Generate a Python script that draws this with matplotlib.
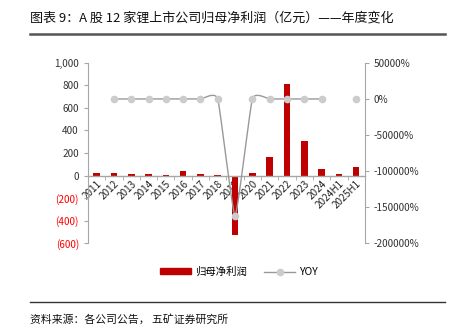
import numpy as np
import matplotlib
matplotlib.use("Agg")
import matplotlib.pyplot as plt
from matplotlib.lines import Line2D
from matplotlib.patches import Patch
from matplotlib.ticker import FixedLocator, FuncFormatter

plt.rcParams['font.family'] = ['Noto Sans CJK SC', 'DejaVu Sans']

# Données
annees = ['2011', '2012', '2013', '2014', '2015', '2016', '2017', '2018', '2019',
          '2020', '2021', '2022', '2023', '2024', '2024H1', '2025H1']
benefice = [25, 25, 15, 15, 5, 40, 15, 5, -525, 25, 169, 810, 311, 62, 15, 75]
yoy = [np.nan, 0, 0, 0, 0, 0, 0, 0, -162000, 0, 0, 0, 0, 0, np.nan, 0]

rouge = '#c00000'
gris_axe = '#a6a6a6'


def courbe_lisse(xs, ys, k=0.07, n=25):
    # Courbe lissée façon Excel (Bézier, points de contrôle P_i ± k*(P_i+1 - P_i-1))
    xs = np.asarray(xs, dtype=float); ys = np.asarray(ys, dtype=float)
    m = len(xs)
    tx = np.zeros(m); ty = np.zeros(m)
    for i in range(m):
        a = max(i - 1, 0); b = min(i + 1, m - 1)
        tx[i] = (xs[b] - xs[a]) * k
        ty[i] = (ys[b] - ys[a]) * k
    out_x, out_y = [], []
    t = np.linspace(0, 1, n)
    for i in range(m - 1):
        p0 = (xs[i], ys[i]); p3 = (xs[i + 1], ys[i + 1])
        p1 = (xs[i] + tx[i], ys[i] + ty[i])
        p2 = (xs[i + 1] - tx[i + 1], ys[i + 1] - ty[i + 1])
        for c, arr in ((0, out_x), (1, out_y)):
            arr.extend((1 - t) ** 3 * p0[c] + 3 * (1 - t) ** 2 * t * p1[c] +
                       3 * (1 - t) * t ** 2 * p2[c] + t ** 3 * p3[c])
    return out_x, out_y


fig = plt.figure(figsize=(4.51, 3.33), dpi=100)
ax = fig.add_axes([0.195, 0.270, 0.614, 0.541])
x = np.arange(len(annees))

ax.bar(x, benefice, width=0.38, color=rouge, zorder=2)
ax.set_ylim(-600, 1000)
ax.set_xlim(-0.5, len(annees) - 0.5)
ax.yaxis.set_major_locator(FixedLocator(range(-600, 1001, 200)))


def fmt_gauche(v, pos):
    if v < 0:
        return f'({abs(v):,.0f})'
    return f'{v:,.0f}'


ax.yaxis.set_major_formatter(FuncFormatter(fmt_gauche))
ax.tick_params(axis='y', labelsize=7.2, colors='#333333', length=3, color=gris_axe, width=0.8)
fig.canvas.draw()
for lab, v in zip(ax.get_yticklabels(), ax.get_yticks()):
    if v < 0:
        lab.set_color('#ff0000')

ax.spines['top'].set_visible(False)
ax.spines['right'].set_visible(False)
ax.spines['left'].set_color(gris_axe)
ax.spines['bottom'].set_position(('data', 0))
ax.spines['bottom'].set_color(gris_axe)
ax.spines['bottom'].set_linewidth(1.0)
ax.set_xticks(x)
ax.set_xticklabels(annees, rotation=45, ha='right', va='top', rotation_mode='anchor')
ax.tick_params(axis='x', labelsize=7.2, length=0, pad=2, colors='#222222')
ax.set_xticks(np.arange(-0.5, len(annees), 1), minor=True)
ax.tick_params(axis='x', which='minor', length=3, color=gris_axe)

# Axe de droite : YOY
ax2 = ax.twinx()
ax2.set_ylim(-200000, 50000)
ax2.yaxis.set_major_locator(FixedLocator(range(-200000, 50001, 50000)))
ax2.yaxis.set_major_formatter(FuncFormatter(lambda v, p: f'{v:.0f}%'))
ax2.tick_params(axis='y', labelsize=7.2, colors='#333333', length=3, color=gris_axe, width=0.8)
for s in ['top', 'left', 'bottom']:
    ax2.spines[s].set_visible(False)
ax2.spines['right'].set_color(gris_axe)

yoy = np.array(yoy, dtype=float)
valide = ~np.isnan(yoy)
# segments continus
debut = None
for i in range(len(yoy) + 1):
    ok = i < len(yoy) and valide[i]
    if ok and debut is None:
        debut = i
    if not ok and debut is not None:
        if i - debut > 1:
            cx, cy = courbe_lisse(x[debut:i], yoy[debut:i])
            ax2.plot(cx, cy, color='#999999', lw=1.0, zorder=3)
        debut = None
ax2.plot(x[valide], yoy[valide], 'o', color='#cccccc', ms=4.5, zorder=4)

# Légende
poignees = [Patch(color=rouge), Line2D([], [], color='#999999', lw=1.0, marker='o',
                                       markerfacecolor='#cccccc', markeredgecolor='#cccccc', ms=4.5)]
fig.legend(poignees, ['归母净利润', 'YOY'], loc='center', bbox_to_anchor=(0.53, 1 - 272 / 333),
           ncol=2, frameon=False, fontsize=7.5, handlelength=3.0, handleheight=0.5,
           columnspacing=1.6, handletextpad=0.4)

# Titre et source
fig.text(30 / 451, 1 - 18 / 333, '图表 9：A 股 12 家锂上市公司归母净利润（亿元）——年度变化',
         fontsize=9.4, va='center', ha='left', color='#111111')
fig.add_artist(Line2D([30 / 451, 445 / 451], [1 - 34 / 333] * 2, color='#555555', lw=1.8))
fig.add_artist(Line2D([30 / 451, 445 / 451], [1 - 302 / 333] * 2, color='#333333', lw=1.0))
fig.text(30 / 451, 1 - 319 / 333, '资料来源：各公司公告， 五矿证券研究所',
         fontsize=7.8, va='center', ha='left', color='#111111')

fig.savefig('out.png', dpi=100)
